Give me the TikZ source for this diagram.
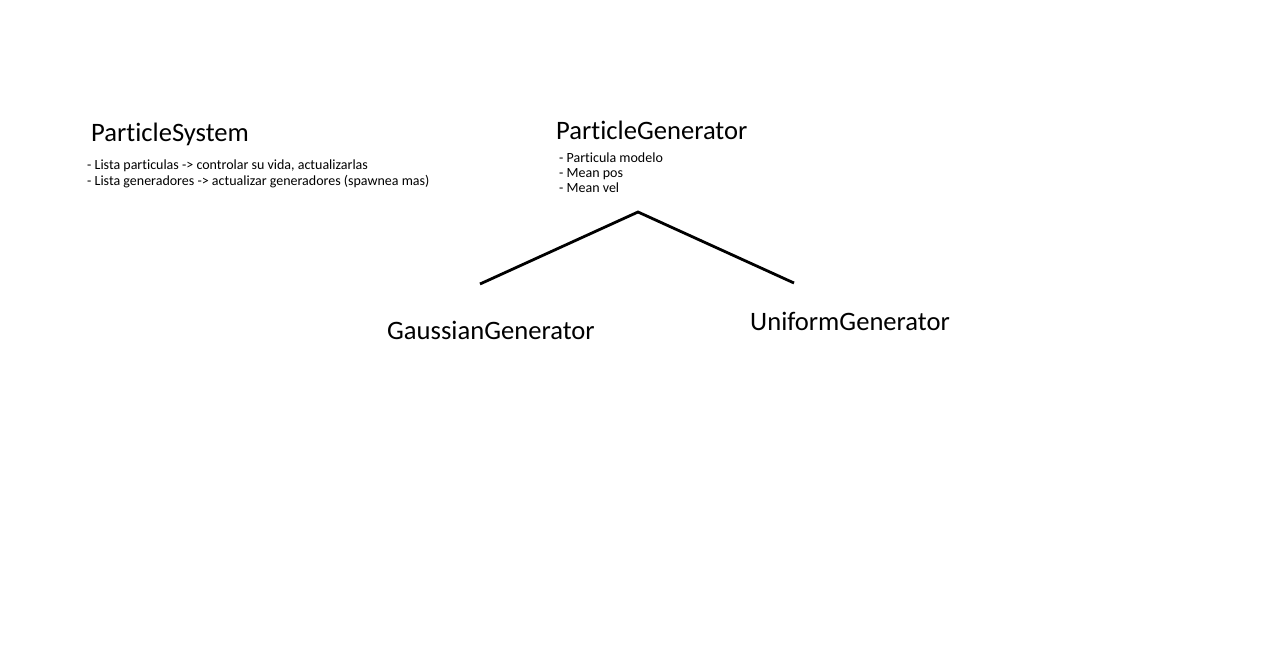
\documentclass[tikz,border=0pt]{standalone}
\usepackage{fontspec}
\setmainfont[Ligatures={TeX,NoCommon}]{Carlito}
\begin{document}
\begin{tikzpicture}[x=1pt,y=-1pt,
  title/.style={anchor=base west,inner sep=0pt,font=\fontsize{26.6}{30}\selectfont},
  item/.style={anchor=base west,inner sep=0pt,font=\fontsize{14}{16}\selectfont},
  link/.style={line width=2.8pt,black}]
\useasboundingbox (0,0) rectangle (1263,648);
\node[title] (ps) at (91,141) {ParticleSystem};
\node[item] (ps1) at (87,169) {- Lista particulas -> controlar su vida, actualizarlas};
\node[item] (ps2) at (87,185) {- Lista generadores -> actualizar generadores (spawnea mas)};
\node[title] (pg) at (556,139) {ParticleGenerator};
\node[item] (pg1) at (559,162) {- Particula modelo};
\node[item] (pg2) at (559,177) {- Mean pos};
\node[item] (pg3) at (559,192) {- Mean vel};
\node[title] (gg) at (387,339) {GaussianGenerator};
\node[title] (ug) at (750,330) {UniformGenerator};
\coordinate (apex) at (638,212);
\coordinate (gl) at (480,284);
\coordinate (ul) at (794,283);
\draw[link] (gl) -- (apex) -- (ul);
\end{tikzpicture}
\end{document}
